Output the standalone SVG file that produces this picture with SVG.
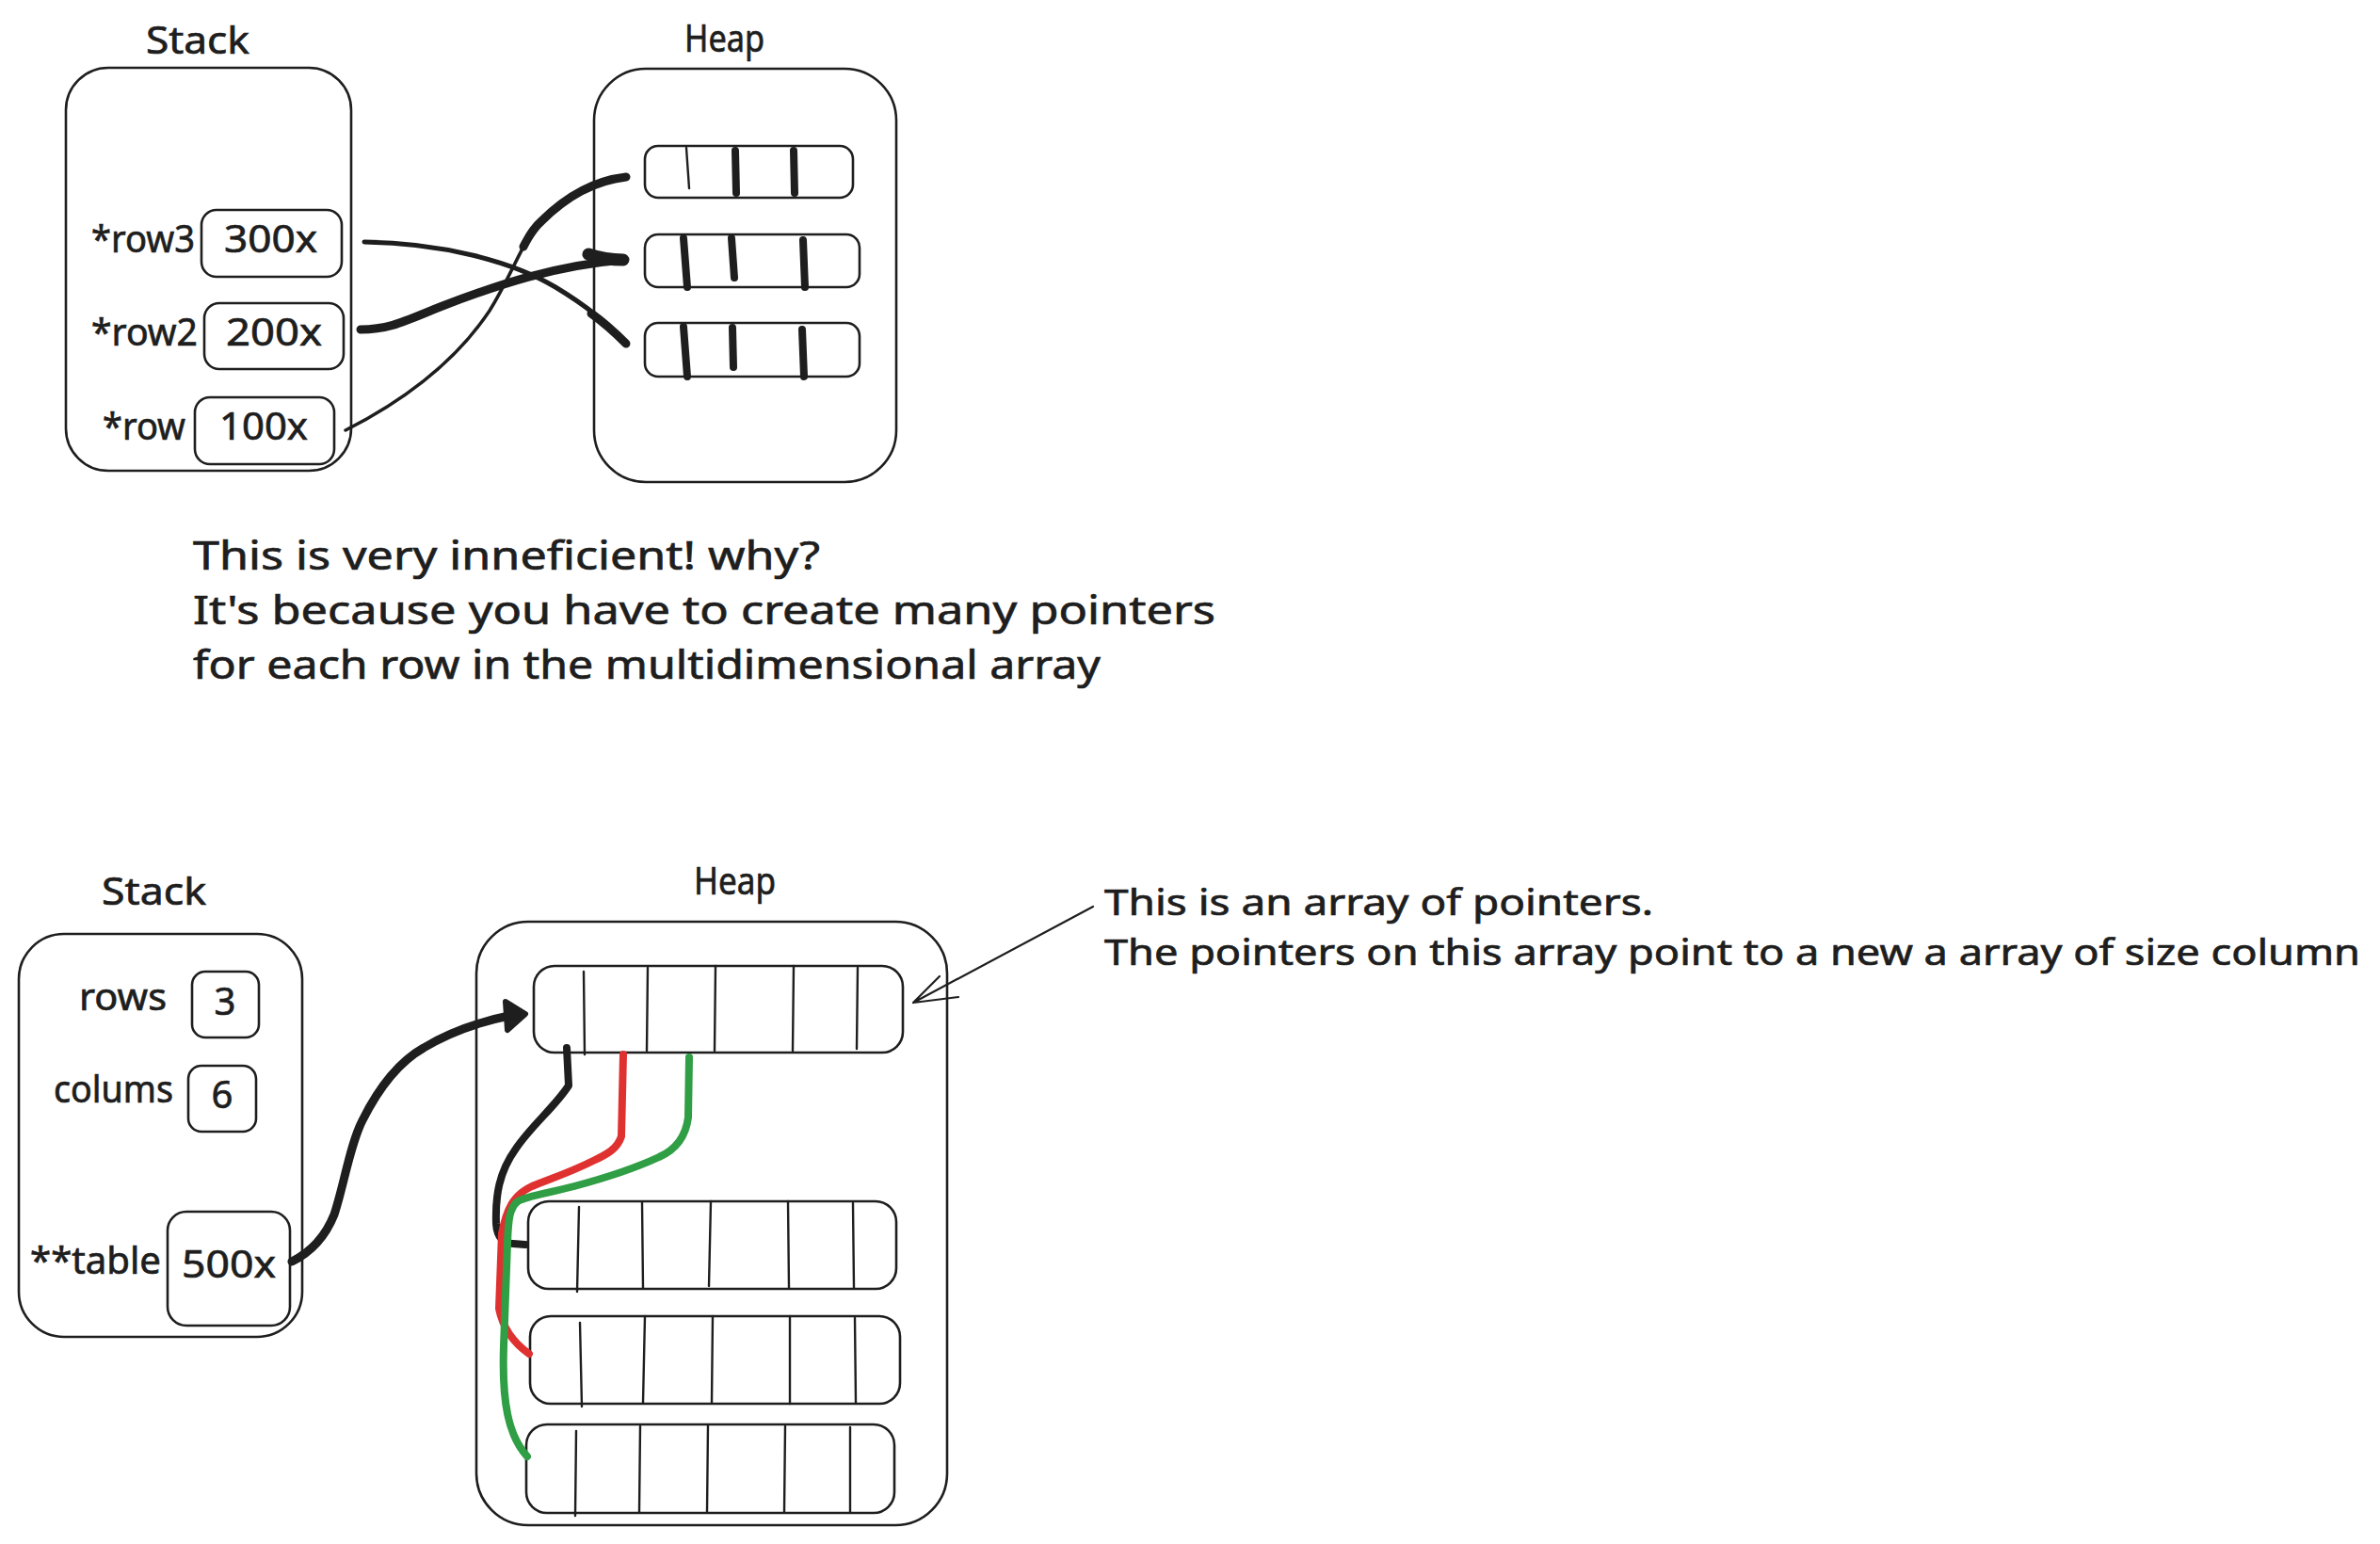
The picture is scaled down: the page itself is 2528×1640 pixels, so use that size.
<svg xmlns="http://www.w3.org/2000/svg" width="2528" height="1640" viewBox="0 0 2528 1640">
<style>
.bg{fill:#ffffff}
.box{fill:none;stroke:#1e1e1e;stroke-width:2.6;stroke-linejoin:round}
.t{font-family:"Noto Sans","Liberation Sans",sans-serif;fill:#1e1e1e;stroke:#1e1e1e;stroke-width:0.7}
.lbl{font-size:40px}
.mid{text-anchor:middle}
.end{text-anchor:end}
.para{font-size:42px}
.note{font-size:38px}
.div{stroke:#1e1e1e;stroke-width:2.4;stroke-linecap:round;fill:none}
.thick{stroke:#1e1e1e;stroke-width:8;stroke-linecap:round;fill:none}
.c{fill:none;stroke-linecap:round;stroke-linejoin:round}
.k{stroke:#1e1e1e}
.r{stroke:#e03131}
.g{stroke:#2f9e44}
</style>
<rect class="bg" x="0" y="0" width="2528" height="1640"/>

<!-- TOP SECTION -->
<g id="top-stack">
  <text class="t lbl" x="155" y="57" textLength="110" lengthAdjust="spacingAndGlyphs">Stack</text>
  <rect class="box" x="70" y="72" width="303" height="428" rx="45"/>
</g>
<g id="top-row3">
  <text class="t lbl" x="97" y="268" textLength="110" lengthAdjust="spacingAndGlyphs">*row3</text>
  <rect class="box" x="214" y="223" width="149" height="71" rx="16"/>
  <text class="t lbl" x="238" y="268" textLength="99" lengthAdjust="spacingAndGlyphs">300x</text>
</g>
<g id="top-row2">
  <text class="t lbl" x="97" y="367" textLength="113" lengthAdjust="spacingAndGlyphs">*row2</text>
  <rect class="box" x="217" y="322" width="148" height="70" rx="16"/>
  <text class="t lbl" x="240" y="367" textLength="102" lengthAdjust="spacingAndGlyphs">200x</text>
</g>
<g id="top-row">
  <text class="t lbl" x="109" y="467" textLength="88" lengthAdjust="spacingAndGlyphs">*row</text>
  <rect class="box" x="207" y="422" width="148" height="71" rx="16"/>
  <text class="t lbl" x="233" y="467" textLength="94" lengthAdjust="spacingAndGlyphs">100x</text>
</g>
<g id="top-heap">
  <text class="t lbl" x="727" y="55" textLength="85" lengthAdjust="spacingAndGlyphs">Heap</text>
  <rect class="box" x="631" y="73" width="321" height="439" rx="55"/>
</g>
<g id="top-array1">
  <rect class="box" x="685" y="155" width="221" height="55" rx="14"/>
  <path class="div" d="M729,157 L732,200"/>
  <path class="thick" d="M781,160 L782,205"/>
  <path class="thick" d="M843,160 L844,205"/>
</g>
<g id="top-array2">
  <rect class="box" x="685" y="249" width="228" height="56" rx="14"/>
  <path class="thick" d="M726,253 L730,305"/>
  <path class="thick" d="M777,253 L780,295"/>
  <path class="thick" d="M853,255 L855,305"/>
</g>
<g id="top-array3">
  <rect class="box" x="685" y="343" width="228" height="57" rx="14"/>
  <path class="thick" d="M726,347 L730,400"/>
  <path class="thick" d="M778,348 L779,390"/>
  <path class="thick" d="M852,350 L854,400"/>
</g>

<g id="top-text">
  <text class="t para" x="205" y="605" textLength="666" lengthAdjust="spacingAndGlyphs">This is very inneficient! why?</text>
  <text class="t para" x="205" y="663" textLength="1086" lengthAdjust="spacingAndGlyphs">It's because you have to create many pointers</text>
  <text class="t para" x="205" y="721" textLength="964" lengthAdjust="spacingAndGlyphs">for each row in the multidimensional array</text>
</g>

<!-- BOTTOM SECTION -->
<g id="bottom-stack">
  <text class="t lbl" x="108" y="961" textLength="111" lengthAdjust="spacingAndGlyphs">Stack</text>
  <rect class="box" x="20" y="992" width="301" height="428" rx="48"/>
</g>
<g id="bottom-rows">
  <text class="t lbl" x="84" y="1073" textLength="93" lengthAdjust="spacingAndGlyphs">rows</text>
  <rect class="box" x="204" y="1032" width="71" height="70" rx="14"/>
  <text class="t lbl mid" x="239" y="1078">3</text>
</g>
<g id="bottom-colums">
  <text class="t lbl" x="57" y="1171" textLength="127" lengthAdjust="spacingAndGlyphs">colums</text>
  <rect class="box" x="200" y="1132" width="72" height="70" rx="14"/>
  <text class="t lbl mid" x="236" y="1177">6</text>
</g>
<g id="bottom-table">
  <text class="t lbl" x="32" y="1353" textLength="139" lengthAdjust="spacingAndGlyphs">**table</text>
  <rect class="box" x="178" y="1287" width="130" height="121" rx="20"/>
  <text class="t lbl" x="193" y="1357" textLength="100" lengthAdjust="spacingAndGlyphs">500x</text>
</g>
<g id="bottom-heap">
  <text class="t lbl" x="737" y="950" textLength="87" lengthAdjust="spacingAndGlyphs">Heap</text>
  <rect class="box" x="506" y="979" width="500" height="641" rx="55"/>
</g>
<g id="pointer-array">
  <rect class="box" x="567" y="1026" width="392" height="92" rx="22"/>
  <path class="div" d="M620,1032 L621,1120 M688,1028 L687,1116 M760,1026 L759,1116 M843,1026 L842,1116 M911,1028 L910,1114"/>
</g>
<g id="row-array1">
  <rect class="box" x="561" y="1276" width="391" height="93" rx="22"/>
  <path class="div" d="M615,1282 L613,1372 M682,1277 L683,1368 M755,1276 L753,1366 M837,1276 L838,1368 M906,1278 L907,1368"/>
</g>
<g id="row-array2">
  <rect class="box" x="563" y="1398" width="393" height="93" rx="22"/>
  <path class="div" d="M616,1405 L618,1494 M685,1398 L683,1490 M757,1398 L756,1490 M839,1398 L839,1491 M908,1400 L909,1490"/>
</g>
<g id="row-array3">
  <rect class="box" x="559" y="1513" width="391" height="94" rx="22"/>
  <path class="div" d="M612,1520 L611,1610 M680,1515 L679,1606 M752,1514 L751,1606 M834,1515 L833,1606 M903,1516 L903,1606"/>
</g>
<g id="note">
  <text class="t note" x="1173" y="972" textLength="583" lengthAdjust="spacingAndGlyphs">This is an array of pointers.</text>
  <text class="t note" x="1173" y="1025" textLength="1334" lengthAdjust="spacingAndGlyphs">The pointers on this array point to a new a array of size column</text>
</g>

<!-- CONNECTORS -->
<g id="connectors">
  <!-- top -->
  <path class="c k" stroke-width="5" d="M387,257 C470,258 545,278 590,305 C620,323 645,342 665,365"/>
  <path class="c k" stroke-width="9" d="M628,333 C645,345 655,355 665,365"/>
  <path class="c k" stroke-width="9" d="M383,350 C415,350 432,340 470,325 C530,302 590,282 662,276"/>
  <path class="c k" stroke-width="13" d="M625,270 C640,275 650,276 662,276"/>
  <path class="c k" stroke-width="3.5" d="M367,457 C420,430 480,390 520,330 C545,290 555,255 575,235 C600,210 630,192 665,188"/>
  <path class="c k" stroke-width="9" d="M556,262 C562,250 567,242 575,235 C600,210 630,192 665,188"/>
  <!-- bottom -->
  <path class="c k" stroke-width="9" d="M310,1340 C330,1330 345,1315 355,1290 C365,1260 372,1215 385,1190 C400,1160 420,1130 450,1113 C480,1095 510,1085 545,1078"/>
  <path fill="#1e1e1e" stroke="#1e1e1e" stroke-width="6" stroke-linejoin="round" d="M537,1064 L558,1077 L539,1094 Z"/>
  <path class="c k" stroke-width="8" d="M602,1113 L604,1153 C590,1175 565,1195 548,1220 C530,1245 526,1270 527,1300 C528,1315 535,1321 545,1321 L558,1322"/>
  <path class="c r" stroke-width="8" d="M662,1120 L660,1207 C656,1220 645,1226 630,1233 C600,1248 578,1254 563,1261 C545,1270 538,1285 533,1310 L530,1390 C534,1410 545,1426 562,1438"/>
  <path class="c g" stroke-width="8" d="M732,1123 L731,1187 C728,1210 716,1222 700,1229 C670,1243 640,1252 610,1260 C580,1268 560,1270 550,1276 C541,1283 540,1295 539,1320 L535,1430 C533,1490 540,1525 560,1547"/>
  <!-- note arrow -->
  <path class="c k" stroke-width="2.2" d="M1161,963 L970,1065 M998,1037 L970,1065 L1018,1059"/>
</g>
</svg>
